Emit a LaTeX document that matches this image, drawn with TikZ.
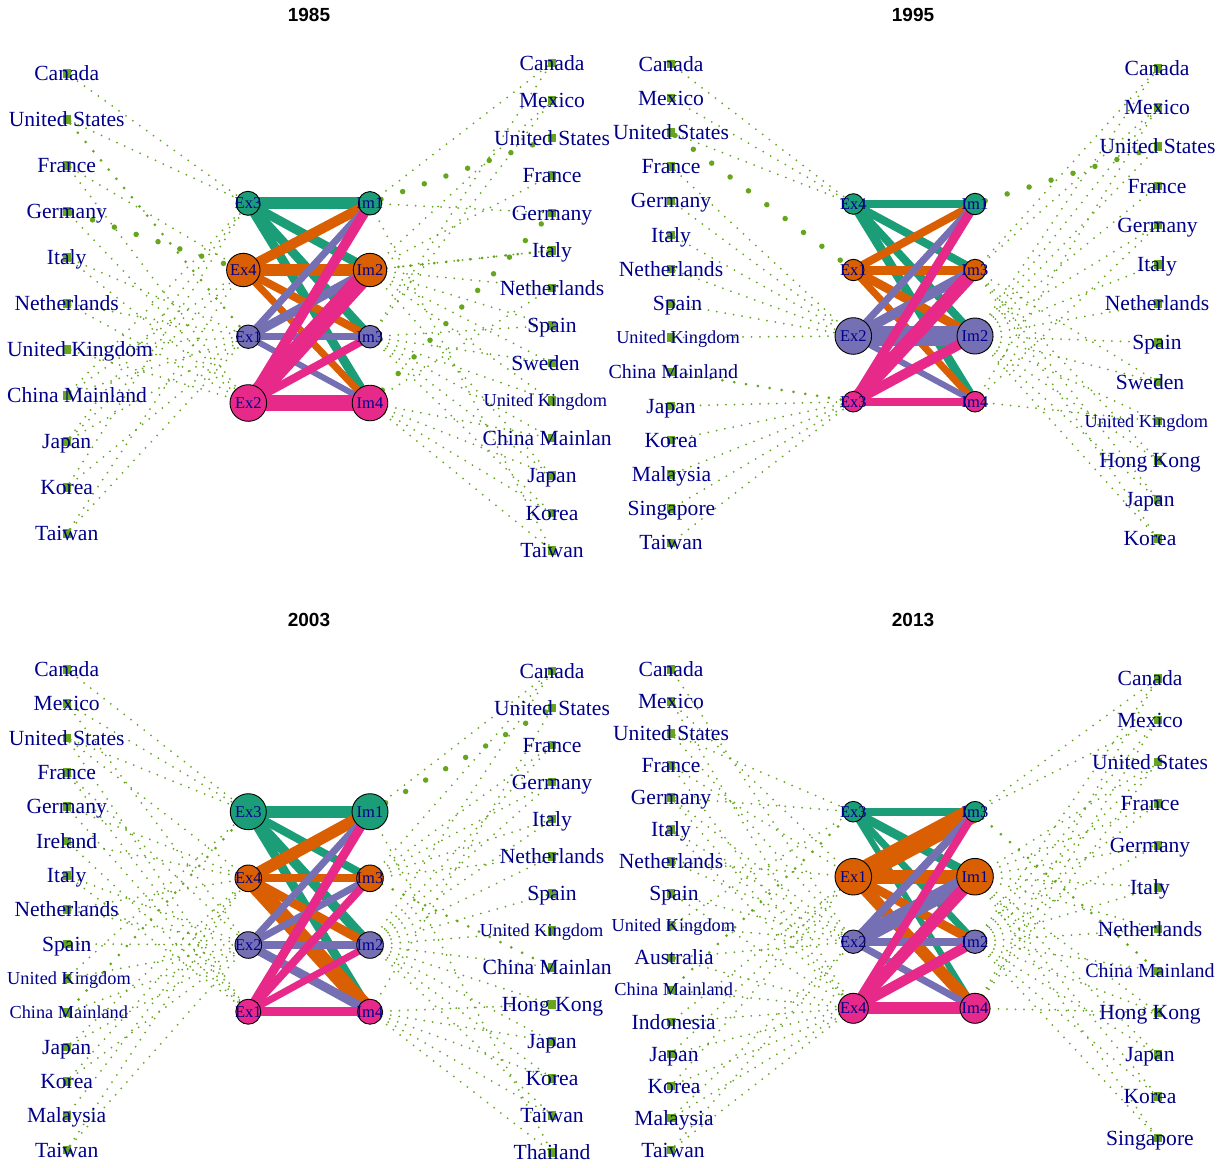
\documentclass[tikz,border=0pt]{standalone}
\usepackage{fontspec}
\setmainfont{Liberation Serif}
\newfontfamily\ttlfont{Liberation Sans}
\pgfdeclarelayer{bg}
\pgfdeclarelayer{mid}
\pgfsetlayers{bg,mid,main}
\definecolor{cT}{HTML}{1B9E77}
\definecolor{cO}{HTML}{D95F02}
\definecolor{cP}{HTML}{7570B3}
\definecolor{cK}{HTML}{E7298A}
\definecolor{grn}{HTML}{66A61E}
\definecolor{lbl}{HTML}{00008B}
\newcommand\fA{\fontsize{21.6}{24}\selectfont}
\newcommand\fB{\fontsize{18.3}{20}\selectfont}
\newcommand\fC{\fontsize{20}{22}\selectfont}
\newcommand\fH{\fontsize{16.5}{18}\selectfont}
\tikzset{
 sq/.style={fill=grn, draw=none, minimum width=8pt, minimum height=8.5pt, inner sep=0pt, outer sep=0pt},
 lab/.style={text=lbl, inner sep=0pt, anchor=base},
 hub/.style={circle, draw=black, line width=0.9pt, inner sep=0pt, outer sep=0pt},
 hlab/.style={text=lbl, font=\fH, inner sep=0pt},
 dl/.style={draw=grn, line width=2pt, line cap=round, dash pattern=on 0pt off 8.5pt},
 ds/.style={draw=grn, line width=3pt, line cap=round, dash pattern=on 0pt off 12pt},
 dm/.style={draw=grn, line width=3.8pt, line cap=round, dash pattern=on 0pt off 14.5pt},
 db/.style={draw=grn, line width=5.5pt, line cap=round, dash pattern=on 0pt off 23pt},
 ttl/.style={font=\ttlfont\bfseries\fontsize{19}{21}\selectfont, inner sep=0pt},
}
\newcommand\cty[7]{\node[sq] (#1) at (#2,#3) {};\node[lab,font=#6] (#1-t) at (#4,#3+#7) {#5};}
\newcommand\hubn[6]{\node[hub, fill=#5, minimum size=#6pt] (#1) at (#2,#3) {};\node[hlab] (#1-t) at (#1.center) {#4};}
\begin{document}
\begin{tikzpicture}[x=1pt,y=-1pt]
\useasboundingbox (0,0) rectangle (1228,1167);
\begin{pgfonlayer}{bg}\fill[white] (0,0) rectangle (1228,1167);\end{pgfonlayer}
% titles
\node[ttl] (t1) at (309,15) {1985};
\node[ttl] (t2) at (913,15) {1995};
\node[ttl] (t3) at (309,620) {2003};
\node[ttl] (t4) at (913,620) {2013};
% ---------- Panel A 1985 ----------
\hubn{A-e1}{248}{203.3}{Ex3}{cT}{24}
\hubn{A-e2}{243.3}{270}{Ex4}{cO}{33.4}
\hubn{A-e3}{248.3}{336.7}{Ex1}{cP}{23.4}
\hubn{A-e4}{248.3}{403}{Ex2}{cK}{36.6}
\hubn{A-i1}{370}{203.3}{Im1}{cT}{23.4}
\hubn{A-i2}{370}{270}{Im2}{cO}{33.4}
\hubn{A-i3}{370}{336.7}{Im3}{cP}{22.6}
\hubn{A-i4}{370}{403}{Im4}{cK}{35.6}
\cty{A-L1}{66.7}{73.3}{66.7}{Canada}{\fA}{7.15}
\cty{A-L2}{66.7}{119.3}{66.7}{United States}{\fA}{7.15}
\cty{A-L3}{66.7}{165.3}{66.7}{France}{\fA}{7.15}
\cty{A-L4}{66.7}{211.3}{66.7}{Germany}{\fA}{7.15}
\cty{A-L5}{66.7}{257.3}{66.7}{Italy}{\fA}{7.15}
\cty{A-L6}{66.7}{303.3}{66.7}{Netherlands}{\fA}{7.15}
\cty{A-L7}{66.7}{349.3}{80}{United Kingdom}{\fA}{7.15}
\cty{A-L8}{66.7}{395.3}{77}{China Mainland}{\fA}{7.15}
\cty{A-L9}{66.7}{441.3}{66.7}{Japan}{\fA}{7.15}
\cty{A-L10}{66.7}{487.3}{66.7}{Korea}{\fA}{7.15}
\cty{A-L11}{66.7}{533.3}{66.7}{Taiwan}{\fA}{7.15}
\cty{A-R1}{551.7}{63}{552}{Canada}{\fA}{7.15}
\cty{A-R2}{551.7}{100.5}{552}{Mexico}{\fA}{7.15}
\cty{A-R3}{551.7}{138}{552}{United States}{\fA}{7.15}
\cty{A-R4}{551.7}{175.5}{552}{France}{\fA}{7.15}
\cty{A-R5}{551.7}{213}{552}{Germany}{\fA}{7.15}
\cty{A-R6}{551.7}{250.5}{552}{Italy}{\fA}{7.15}
\cty{A-R7}{551.7}{288}{552}{Netherlands}{\fA}{7.15}
\cty{A-R8}{551.7}{325.5}{552}{Spain}{\fA}{7.15}
\cty{A-R9}{551.7}{363}{545.5}{Sweden}{\fA}{7.15}
\cty{A-R10}{551.7}{400.5}{545.3}{United Kingdom}{\fB}{6.05}
\cty{A-R11}{551.7}{438}{547.2}{China Mainlan}{\fA}{7.15}
\cty{A-R12}{551.7}{475.5}{552}{Japan}{\fA}{7.15}
\cty{A-R13}{551.7}{513}{552}{Korea}{\fA}{7.15}
\cty{A-R14}{551.7}{550.5}{552}{Taiwan}{\fA}{7.15}
% ---------- Panel B 1995 ----------
\hubn{B-e1}{853.3}{204}{Ex4}{cT}{20.6}
\hubn{B-e2}{853.3}{270}{Ex1}{cO}{21.4}
\hubn{B-e3}{853.3}{336}{Ex2}{cP}{36.6}
\hubn{B-e4}{853.3}{401.7}{Ex3}{cK}{20.6}
\hubn{B-i1}{975}{204}{Im1}{cT}{21.4}
\hubn{B-i2}{975}{270}{Im3}{cO}{21.4}
\hubn{B-i3}{975}{336}{Im2}{cP}{36}
\hubn{B-i4}{975}{401.7}{Im4}{cK}{20.6}
\cty{B-L1}{671}{64}{671}{Canada}{\fA}{7.15}
\cty{B-L2}{671}{98.2}{671}{Mexico}{\fA}{7.15}
\cty{B-L3}{671}{132.4}{671}{United States}{\fA}{7.15}
\cty{B-L4}{671}{166.6}{671}{France}{\fA}{7.15}
\cty{B-L5}{671}{200.8}{671}{Germany}{\fA}{7.15}
\cty{B-L6}{671}{235}{671}{Italy}{\fA}{7.15}
\cty{B-L7}{671}{269.2}{671}{Netherlands}{\fA}{7.15}
\cty{B-L8}{671}{303.4}{677.5}{Spain}{\fA}{7.15}
\cty{B-L9}{671}{337.6}{678}{United Kingdom}{\fB}{6.05}
\cty{B-L10}{671}{371.8}{673.3}{China Mainland}{\fC}{6.6}
\cty{B-L11}{671}{406}{671}{Japan}{\fA}{7.15}
\cty{B-L12}{671}{440.2}{671}{Korea}{\fA}{7.15}
\cty{B-L13}{671}{474.4}{671.5}{Malaysia}{\fA}{7.15}
\cty{B-L14}{671}{508.6}{671.5}{Singapore}{\fA}{7.15}
\cty{B-L15}{671}{542.8}{671}{Taiwan}{\fA}{7.15}
\cty{B-R1}{1157.7}{68.3}{1157}{Canada}{\fA}{7.15}
\cty{B-R2}{1157.7}{107.5}{1157}{Mexico}{\fA}{7.15}
\cty{B-R3}{1157.7}{146.7}{1157.5}{United States}{\fA}{7.15}
\cty{B-R4}{1157.7}{185.9}{1157}{France}{\fA}{7.15}
\cty{B-R5}{1157.7}{225.1}{1157.5}{Germany}{\fA}{7.15}
\cty{B-R6}{1157.7}{264.3}{1157}{Italy}{\fA}{7.15}
\cty{B-R7}{1157.7}{303.5}{1157}{Netherlands}{\fA}{7.15}
\cty{B-R8}{1157.7}{342.7}{1157}{Spain}{\fA}{7.15}
\cty{B-R9}{1157.7}{381.9}{1150}{Sweden}{\fA}{7.15}
\cty{B-R10}{1157.7}{421.1}{1146.3}{United Kingdom}{\fB}{6.05}
\cty{B-R11}{1157.7}{460.3}{1150}{Hong Kong}{\fA}{7.15}
\cty{B-R12}{1157.7}{499.5}{1150}{Japan}{\fA}{7.15}
\cty{B-R13}{1157.7}{538.7}{1150}{Korea}{\fA}{7.15}
% ---------- Panel C 2003 ----------
\hubn{C-e1}{248.3}{811.7}{Ex3}{cT}{36}
\hubn{C-e2}{248.3}{878.3}{Ex4}{cO}{26.6}
\hubn{C-e3}{248.3}{945}{Ex2}{cP}{26.6}
\hubn{C-e4}{248.3}{1011.7}{Ex1}{cK}{25}
\hubn{C-i1}{370}{811.7}{Im1}{cT}{36}
\hubn{C-i2}{370}{878.3}{Im3}{cO}{26.6}
\hubn{C-i3}{370}{945}{Im2}{cP}{26.6}
\hubn{C-i4}{370}{1011.7}{Im4}{cK}{25}
\cty{C-L1}{66.7}{669.3}{66.7}{Canada}{\fA}{7.15}
\cty{C-L2}{66.7}{703.6}{66.7}{Mexico}{\fA}{7.15}
\cty{C-L3}{66.7}{738}{66.7}{United States}{\fA}{7.15}
\cty{C-L4}{66.7}{772.3}{66.7}{France}{\fA}{7.15}
\cty{C-L5}{66.7}{806.6}{66.7}{Germany}{\fA}{7.15}
\cty{C-L6}{66.7}{841}{66.7}{Ireland}{\fA}{7.15}
\cty{C-L7}{66.7}{875.3}{66.7}{Italy}{\fA}{7.15}
\cty{C-L8}{66.7}{909.6}{66.7}{Netherlands}{\fA}{7.15}
\cty{C-L9}{66.7}{943.9}{66.7}{Spain}{\fA}{7.15}
\cty{C-L10}{66.7}{978.3}{69}{United Kingdom}{\fB}{6.05}
\cty{C-L11}{66.7}{1012.6}{68.8}{China Mainland}{\fB}{6.05}
\cty{C-L12}{66.7}{1046.9}{66.7}{Japan}{\fA}{7.15}
\cty{C-L13}{66.7}{1081.3}{66.7}{Korea}{\fA}{7.15}
\cty{C-L14}{66.7}{1115.6}{66.7}{Malaysia}{\fA}{7.15}
\cty{C-L15}{66.7}{1149.9}{66.7}{Taiwan}{\fA}{7.15}
\cty{C-R1}{552.3}{671}{552}{Canada}{\fA}{7.15}
\cty{C-R2}{552.3}{708.1}{552}{United States}{\fA}{7.15}
\cty{C-R3}{552.3}{745.1}{552}{France}{\fA}{7.15}
\cty{C-R4}{552.3}{782.2}{552}{Germany}{\fA}{7.15}
\cty{C-R5}{552.3}{819.2}{552}{Italy}{\fA}{7.15}
\cty{C-R6}{552.3}{856.3}{552}{Netherlands}{\fA}{7.15}
\cty{C-R7}{552.3}{893.3}{552}{Spain}{\fA}{7.15}
\cty{C-R8}{552.3}{930.4}{541.7}{United Kingdom}{\fB}{6.05}
\cty{C-R9}{552.3}{967.4}{547.2}{China Mainlan}{\fA}{7.15}
\cty{C-R10}{552.3}{1004.5}{552.5}{Hong Kong}{\fA}{7.15}
\cty{C-R11}{552.3}{1041.5}{552}{Japan}{\fA}{7.15}
\cty{C-R12}{552.3}{1078.6}{552}{Korea}{\fA}{7.15}
\cty{C-R13}{552.3}{1115.6}{552}{Taiwan}{\fA}{7.15}
\cty{C-R14}{552.3}{1152.7}{552}{Thailand}{\fA}{7.15}
% ---------- Panel D 2013 ----------
\hubn{D-e1}{853.3}{811.7}{Ex3}{cT}{20.6}
\hubn{D-e2}{853.3}{876.7}{Ex1}{cO}{36.6}
\hubn{D-e3}{853.3}{941.7}{Ex2}{cP}{23.4}
\hubn{D-e4}{853.3}{1008.3}{Ex4}{cK}{30}
\hubn{D-i1}{975}{811.7}{Im3}{cT}{20.6}
\hubn{D-i2}{975}{876.7}{Im1}{cO}{36.6}
\hubn{D-i3}{975}{941.7}{Im2}{cP}{23.4}
\hubn{D-i4}{975}{1008.3}{Im4}{cK}{30}
\cty{D-L1}{671}{669.3}{671}{Canada}{\fA}{7.15}
\cty{D-L2}{671}{701.4}{671}{Mexico}{\fA}{7.15}
\cty{D-L3}{671}{733.4}{671}{United States}{\fA}{7.15}
\cty{D-L4}{671}{765.5}{671}{France}{\fA}{7.15}
\cty{D-L5}{671}{797.5}{671}{Germany}{\fA}{7.15}
\cty{D-L6}{671}{829.6}{671}{Italy}{\fA}{7.15}
\cty{D-L7}{671}{861.6}{671}{Netherlands}{\fA}{7.15}
\cty{D-L8}{671}{893.7}{674}{Spain}{\fA}{7.15}
\cty{D-L9}{671}{925.7}{673.3}{United Kingdom}{\fB}{6.05}
\cty{D-L10}{671}{957.8}{674}{Australia}{\fA}{7.15}
\cty{D-L11}{671}{989.8}{673.7}{China Mainland}{\fB}{6.05}
\cty{D-L12}{671}{1021.9}{673.7}{Indonesia}{\fA}{7.15}
\cty{D-L13}{671}{1053.9}{674}{Japan}{\fA}{7.15}
\cty{D-L14}{671}{1086}{674}{Korea}{\fA}{7.15}
\cty{D-L15}{671}{1118}{674}{Malaysia}{\fA}{7.15}
\cty{D-L16}{671}{1150.1}{673}{Taiwan}{\fA}{7.15}
\cty{D-R1}{1157.7}{678.3}{1150}{Canada}{\fA}{7.15}
\cty{D-R2}{1157.7}{720.1}{1150}{Mexico}{\fA}{7.15}
\cty{D-R3}{1157.7}{761.9}{1150}{United States}{\fA}{7.15}
\cty{D-R4}{1157.7}{803.7}{1150}{France}{\fA}{7.15}
\cty{D-R5}{1157.7}{845.5}{1150}{Germany}{\fA}{7.15}
\cty{D-R6}{1157.7}{887.3}{1150}{Italy}{\fA}{7.15}
\cty{D-R7}{1157.7}{929.1}{1150}{Netherlands}{\fA}{7.15}
\cty{D-R8}{1157.7}{970.9}{1150}{China Mainland}{\fC}{6.6}
\cty{D-R9}{1157.7}{1012.7}{1150}{Hong Kong}{\fA}{7.15}
\cty{D-R10}{1157.7}{1054.5}{1150}{Japan}{\fA}{7.15}
\cty{D-R11}{1157.7}{1096.3}{1150}{Korea}{\fA}{7.15}
\cty{D-R12}{1157.7}{1138.1}{1150}{Singapore}{\fA}{7.15}
% ---------- dotted connectors ----------
\begin{pgfonlayer}{bg}
% A left
\foreach \a/\b in {1/e1,2/e1,3/e4,3/e2,4/e4,5/e4,5/e3,6/e4,6/e3,7/e4,7/e3,8/e1,8/e3,8/e2,9/e1,9/e2,9/e3,10/e1,10/e3,11/e2,11/e3}
  \draw[dl] (A-L\a) -- (A-\b);
\draw[ds] (A-L2) -- (A-e3);
\draw[db] (A-L4) -- (A-e2);
% A right
\foreach \a/\b in {i1/5,i1/1,i1/14,i2/4,i2/6,i2/7,i2/8,i2/9,i2/10,i2/2,i2/12,i3/9,i3/10,i3/11,i3/12,i3/13,i3/8,i3/1,i3/2,i4/11,i4/12,i4/13,i4/14,i4/7}
  \draw[dl] (A-\a) -- (A-R\b);
\draw[ds] (A-i2) -- (A-R6);
\draw[db] (A-i1) -- (A-R3);
\draw[db] (A-i4) -- (A-R5);
% B left
\foreach \a/\b in {1/e1,2/e1,3/e1,4/e3,5/e3,6/e3,7/e3,8/e3,9/e3,11/e4,12/e4,13/e4,14/e4,15/e4}
  \draw[dl] (B-L\a) -- (B-\b);
\draw[db] (B-L3) -- (B-e2);
\draw[ds] (B-L10) -- (B-e4);
% B right
\foreach \a/\b in {i2/1,i2/2,i2/9,i2/11,i2/12,i2/13,i3/1,i3/2,i3/3,i3/4,i3/5,i3/6,i3/7,i3/8,i3/9,i3/10,i3/11,i3/12,i3/13,i4/10,i4/2,i4/5}
  \draw[dl] (B-\a) -- (B-R\b);
\draw[db] (B-i1) -- (B-R3);
% C left
\foreach \a/\b in {1/e1,2/e1,2/e3,3/e1,3/e4,3/e2,4/e4,4/e3,5/e4,5/e2,6/e2,6/e4,7/e4,7/e3,8/e3,8/e2,9/e3,10/e3,10/e1,11/e3,12/e2,12/e3,13/e2,13/e3,14/e2,15/e2,15/e3}
  \draw[dl] (C-L\a) -- (C-\b);
\draw[ds] (C-L11) -- (C-e1);
% C right
\foreach \a/\b in {i1/1,i1/14,i2/1,i2/3,i2/4,i2/5,i2/6,i3/1,i3/3,i3/4,i3/5,i3/6,i3/7,i3/8,i3/9,i3/10,i3/11,i3/12,i3/13,i4/10,i4/11,i4/12,i4/13,i4/14,i4/2}
  \draw[dl] (C-\a) -- (C-R\b);
\draw[db] (C-i1) -- (C-R2);
\draw[ds] (C-i2) -- (C-R9);
% D left
\foreach \a/\b in {1/e3,2/e2,2/e4,3/e1,3/e3,4/e2,4/e4,5/e1,5/e3,5/e4,6/e3,6/e4,7/e2,7/e3,8/e3,8/e4,9/e1,9/e3,10/e3,10/e4,11/e4,12/e4,12/e2,13/e4,13/e2,14/e4,14/e2,15/e4,15/e3,16/e4,16/e3}
  \draw[dl] (D-L\a) -- (D-\b);
\draw[ds] (D-L11) -- (D-e1);
% D right
\foreach \a/\b in {i1/1,i1/2,i2/3,i2/4,i2/5,i2/6,i2/7,i2/9,i2/10,i2/11,i2/12,i3/1,i3/2,i3/3,i3/4,i3/5,i3/6,i3/7,i3/8,i3/9,i3/10,i3/11,i3/12,i4/9,i4/3,i4/2,i4/1}
  \draw[dl] (D-\a) -- (D-R\b);
\draw[ds] (D-i1) -- (D-R8);
\end{pgfonlayer}
% ---------- thick edges ----------
\begin{pgfonlayer}{mid}
\foreach \p/\c/\r/\ws in {%
 A/cT/e1/{12,9,9,9}, A/cO/e2/{10,12,8,7}, A/cP/e3/{7,9,7,6}, A/cK/e4/{10,18,8,16},
 B/cT/e1/{8,8,8,9}, B/cO/e2/{8,9,9,7}, B/cP/e3/{7,10,20,6}, B/cK/e4/{9,14,10,8},
 C/cT/e1/{12,8,10,9}, C/cO/e2/{12,8,9,16}, C/cP/e3/{7,7,8,9}, C/cK/e4/{9,8,7,9},
 D/cT/e1/{8,9,7,6}, D/cO/e2/{20,14,9,12}, D/cP/e3/{8,16,8,7}, D/cK/e4/{8,12,10,12}}
 {\foreach \w [count=\j] in \ws
   \draw[draw=\c, line width=\w pt] (\p-\r.center) -- (\p-i\j.center);}
\end{pgfonlayer}
\end{tikzpicture}
\end{document}
